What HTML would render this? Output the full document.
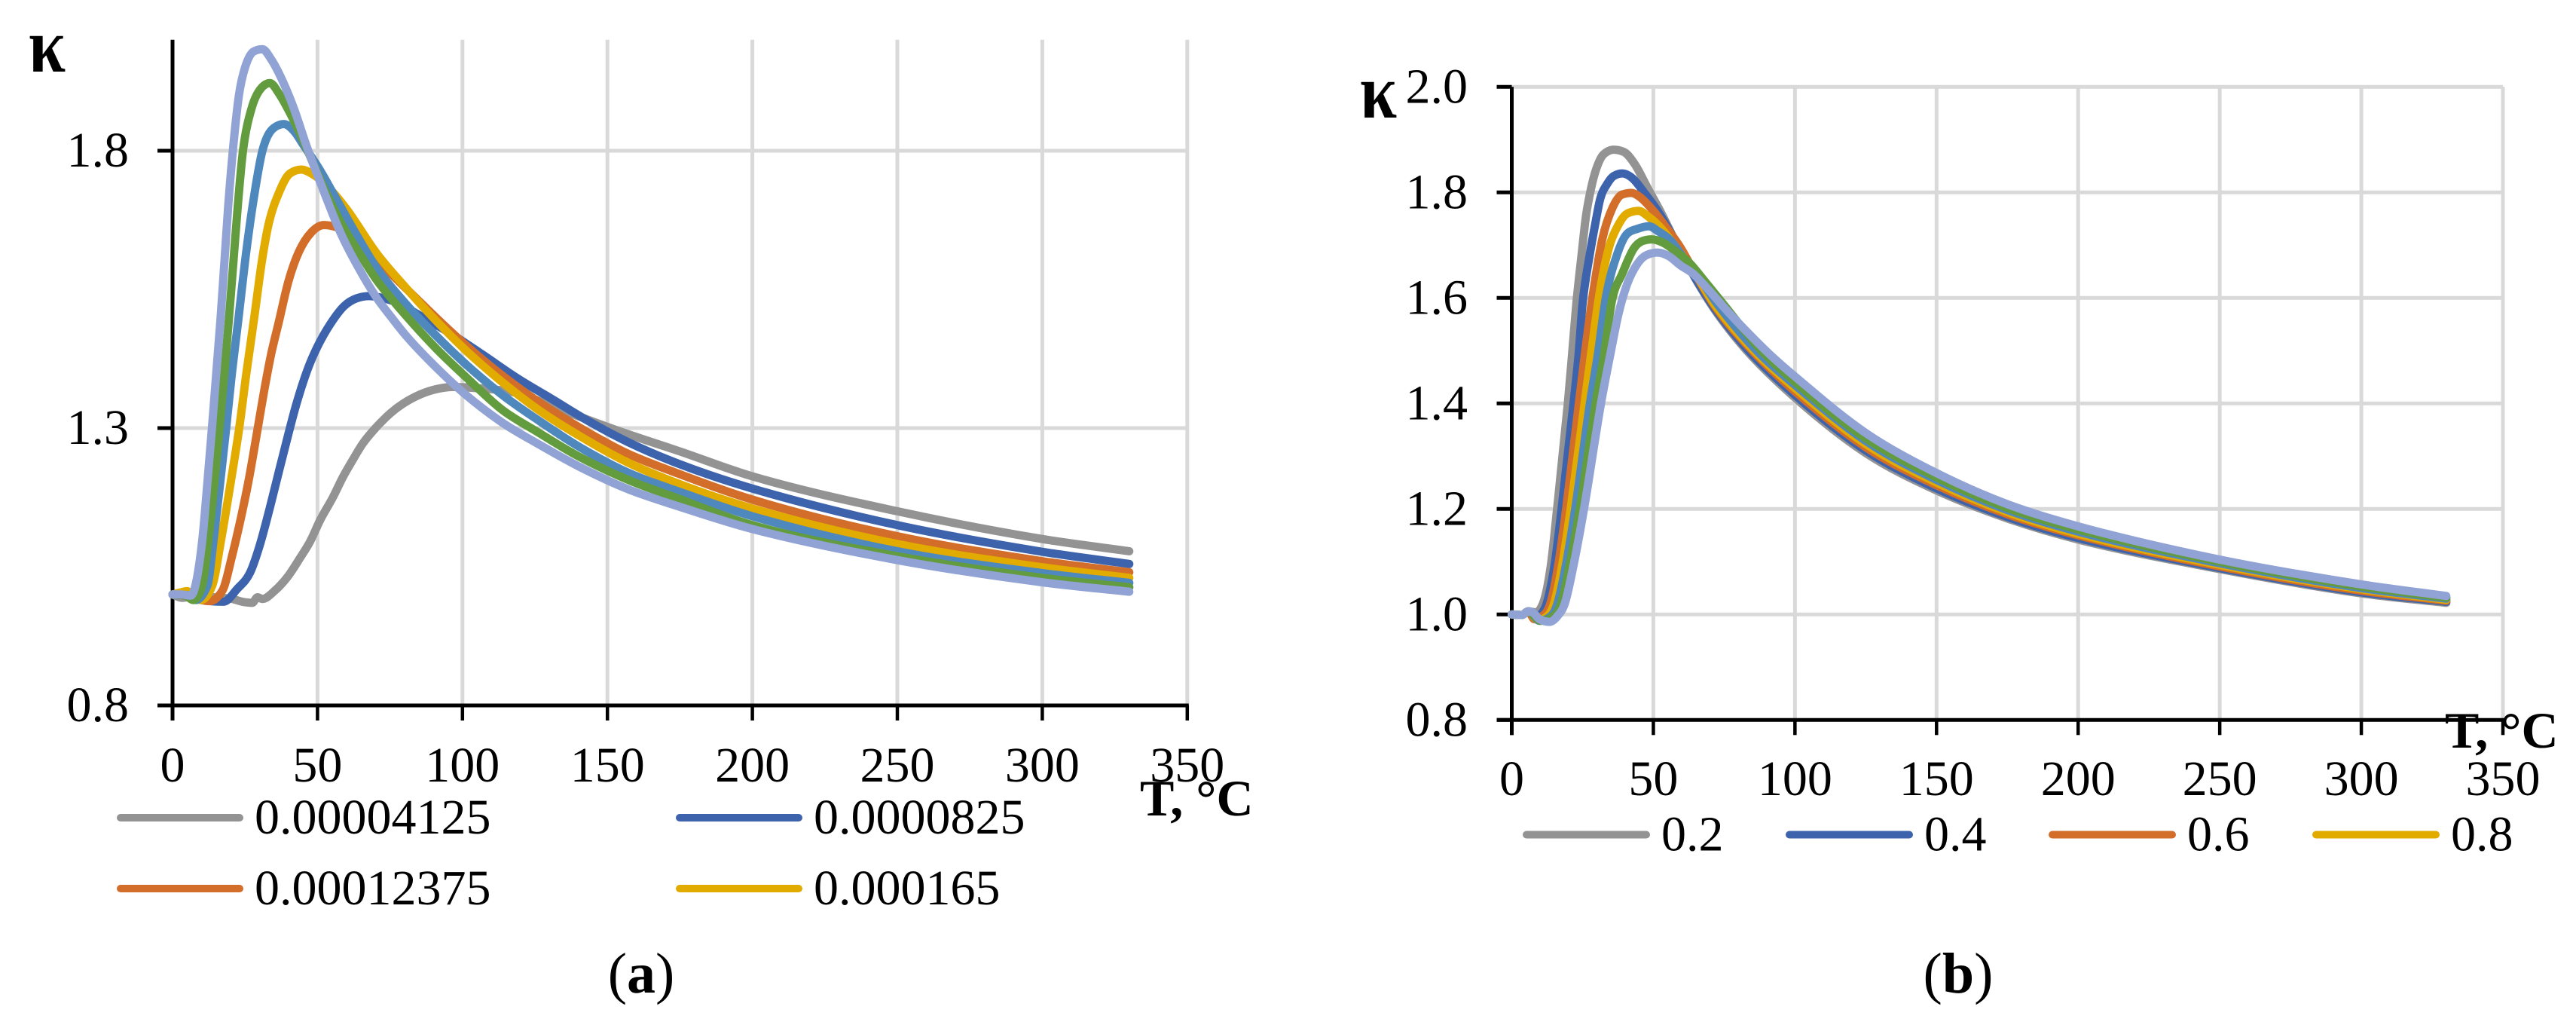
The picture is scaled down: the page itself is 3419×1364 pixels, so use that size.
<!DOCTYPE html>
<html lang="en">
<head>
<meta charset="utf-8">
<title>Kappa versus temperature charts</title>
<style>
html,body{margin:0;padding:0;background:#fff;width:3419px;height:1364px;overflow:hidden}
svg{display:block;font-family:"Liberation Serif",serif}
text{fill:#000}
</style>
</head>
<body>
<svg id="figure" xmlns="http://www.w3.org/2000/svg" width="3419" height="1364" viewBox="0 0 3419 1364">
<g id="chart-a"></g>
<g id="chart-b"></g>
<text transform="translate(38,95) scale(0.96,1.12)" font-size="92" font-weight="bold">κ</text>
<text x="1513" y="1082" font-size="68" font-weight="bold">T, °C</text>
<text x="851" y="1317" font-size="76" text-anchor="middle">(<tspan font-weight="bold">a</tspan>)</text>
<text transform="translate(1805,156) scale(0.96,1.12)" font-size="92" font-weight="bold">κ</text>
<text x="3245" y="992" font-size="68" font-weight="bold">T, °C</text>
<text x="2599" y="1317" font-size="76" text-anchor="middle">(<tspan font-weight="bold">b</tspan>)</text>
</svg>
<script>
// ---------- Panel (a) data ----------
const aGrayT=[0,3.3,8,14,20.6,24,27.5,29.3,31,35.3,39.7,44,47.5,51,55.3,58.7,62.2,65.6,70,75.2,79.5,85.6,90.8,96.8,105,117.2,129.3,139.7,152.7,165.7,174.4,200,250,300,330];
const aGrayK=[1,.994,.997,.995,.992,.987,.985,.995,.992,1.007,1.032,1.066,1.096,1.135,1.175,1.211,1.243,1.272,1.3,1.327,1.344,1.361,1.37,1.374,1.372,1.365,1.343,1.322,1.297,1.274,1.259,1.213,1.15,1.1,1.078];
const aBlueT=[0,5,10,17.6,22.3,26.7,30.1,33.6,36.6,39.7,42.7,46.6,50,54.6,59.2,63.5,67.8,72,78,84.3,96.4,106.8,118.9,131,144,157,174.4,200,250,300,330];
const aBlueK=[1,.998,.99,.987,1.01,1.039,1.089,1.157,1.22,1.284,1.343,1.406,1.447,1.489,1.52,1.534,1.538,1.535,1.525,1.506,1.469,1.433,1.39,1.352,1.311,1.275,1.236,1.191,1.125,1.077,1.055];
const aOrangeT=[0,5,10,12.8,17.2,20.6,24,26.3,29.4,31.7,34,36.6,40,43.6,47.9,52.2,56.6,62,68,74.8,85.2,96.4,106.8,119,131,144,157,174.4,200,250,300,330];
const aOrangeK=[1,.998,.99,.988,1.007,1.071,1.148,1.207,1.3,1.37,1.433,1.49,1.565,1.618,1.653,1.666,1.662,1.645,1.615,1.581,1.528,1.472,1.424,1.374,1.331,1.29,1.254,1.218,1.171,1.105,1.06,1.04];
const aYellowT=[0,3,5,7,9.8,13.7,16.8,20,23,25.5,28.2,30.8,33.2,36.6,40.5,44.4,47.9,53,60,70.4,80.8,91.2,101.6,113.7,125.9,139.7,157,174.4,200,250,300,330];
const aYellowK=[1,1.004,1.006,1,.99,1.016,1.1,1.2,1.3,1.4,1.5,1.6,1.669,1.723,1.759,1.766,1.759,1.738,1.695,1.615,1.551,1.492,1.438,1.383,1.334,1.288,1.238,1.2,1.155,1.091,1.049,1.03];
const aLightBlueT=[0,5,8,12,14.2,16.4,18.5,20.5,22.8,25,27.6,31,34.9,38.4,41.8,45.3,50.5,56.6,63.5,70.4,80.8,91.2,101.6,113.7,125.9,139.7,157,174.4,200,250,300,330];
const aLightBlueK=[1,.999,.99,1.016,1.1,1.2,1.3,1.4,1.5,1.6,1.7,1.8,1.841,1.848,1.836,1.809,1.768,1.712,1.648,1.589,1.522,1.465,1.413,1.36,1.315,1.268,1.22,1.186,1.141,1.078,1.0385,1.021];
const aGreenT=[0,4,7.2,10.2,12.4,14.4,16.2,17.9,19.5,21,22.5,24.3,27.3,30.6,33.6,36.6,41,46.2,51.4,58.3,65.2,70.4,80.8,91.2,101.6,113.7,125.9,139.7,157,174.4,200,250,300,330];
const aGreenK=[1,.999,.99,1.016,1.1,1.2,1.3,1.4,1.5,1.6,1.7,1.8,1.877,1.913,1.922,1.904,1.863,1.805,1.742,1.668,1.609,1.567,1.501,1.442,1.39,1.333,1.293,1.25,1.207,1.173,1.125,1.069,1.03,1.013];
const aLavenderT=[0,3,6.3,8.1,10.3,12,13.6,15.1,16.6,17.9,19.2,20.8,22.9,25,28,31,34,37.5,41.8,46.2,51.4,58.3,66,70.4,75.6,80.8,91.2,101.6,113.7,125.9,139.7,157,174.4,200,250,300,330];
const aLavenderK=[1,1,.998,1.021,1.1,1.2,1.3,1.4,1.5,1.6,1.7,1.8,1.9,1.95,1.979,1.983,1.965,1.931,1.877,1.809,1.737,1.648,1.572,1.535,1.499,1.465,1.408,1.358,1.31,1.272,1.232,1.19,1.159,1.118,1.062,1.022,1.005];

// ---------- Panel (b) data ----------
const bGrayT=[0,3.6,5.8,8.5,11.1,13.8,16,19.8,21.3,22.8,24.7,26.2,28.4,30.2,32.4,36,39.5,43.5,48,52.4,58.6,65,72,82.5,100,125,150,175,200,250,300,330];
const bGrayK=[1,.999,1.006,1.004,1.022,1.093,1.2,1.4,1.493,1.589,1.684,1.755,1.817,1.85,1.872,1.881,1.877,1.853,1.808,1.765,1.698,1.635,1.575,1.503,1.411,1.306,1.235,1.182,1.142,1.086,1.04,1.022];
const bBlueT=[0,3.6,5.8,7.6,9,10.7,12.4,15.1,17.6,21.8,23.6,25,27.6,29.5,31.3,33.8,36,39,42.6,47,51.5,58.6,64.8,71.9,83,100,125,150,175,200,250,300,330];
const bBlueK=[1,.999,1.006,1.003,.997,1.003,1.022,1.093,1.2,1.4,1.493,1.589,1.684,1.741,1.789,1.817,1.831,1.836,1.827,1.798,1.765,1.7,1.638,1.578,1.504,1.416,1.311,1.239,1.185,1.145,1.088,1.042,1.024];
const bOrangeT=[0,3.6,5.8,8,11.1,13.7,16.4,19.2,23.7,25.8,28.4,32,35.5,39,42.2,45.3,49.7,54.2,59.5,65.3,72,84,100,125,150,175,200,250,300,330];
const bOrangeK=[1,.999,1.006,.991,.998,1.022,1.093,1.2,1.4,1.493,1.598,1.712,1.77,1.796,1.799,1.791,1.767,1.736,1.696,1.641,1.582,1.505,1.423,1.317,1.245,1.19,1.15,1.091,1.045,1.026];
const bYellowT=[0,3.6,5.8,9.4,12.9,15,17.8,20.8,25.7,28,31.1,34.2,37.7,40.8,44.8,48,52.4,57.7,64.8,72,85,100,125,150,175,200,250,300,330];
const bYellowK=[1,.999,1.006,.989,.999,1.022,1.093,1.2,1.4,1.493,1.612,1.693,1.739,1.76,1.765,1.755,1.734,1.698,1.646,1.585,1.503,1.429,1.323,1.25,1.194,1.153,1.094,1.048,1.028];
const bLightBlueT=[0,3.6,5.8,9.8,14,16.2,19.1,22.4,27.6,30.4,33.3,37.3,40.8,44.4,48.4,51.5,55.9,60.3,65.2,72.8,86.5,100,125,150,175,200,250,300,330];
const bLightBlueK=[1,.999,1.006,.988,.998,1.022,1.093,1.2,1.4,1.493,1.603,1.684,1.722,1.731,1.736,1.727,1.71,1.679,1.646,1.587,1.5,1.435,1.329,1.255,1.198,1.157,1.097,1.05,1.03];
const bGreenT=[0,3.6,5.8,10.2,15,17.5,20.4,24,29.6,32.6,35.5,39,43,46.2,49.3,53.3,57.7,63,67.5,74.6,87.5,100,125,150,175,200,250,300,330];
const bGreenK=[1,.999,1.006,.988,.998,1.022,1.093,1.2,1.4,1.493,1.598,1.646,1.693,1.708,1.711,1.705,1.689,1.665,1.636,1.589,1.504,1.441,1.334,1.26,1.202,1.161,1.1,1.053,1.032];
const bLavenderT=[0,3.6,5.8,7.6,9.8,13.3,16,18.8,21.8,25.5,31.5,34.8,37.7,40.8,44.4,47.5,51.5,55.5,59.5,64,69.2,76.3,90.5,100,125,150,175,200,250,300,330];
const bLavenderK=[1,.999,1.006,1.003,.991,.986,.996,1.022,1.093,1.2,1.4,1.493,1.57,1.627,1.665,1.681,1.686,1.679,1.662,1.646,1.617,1.574,1.496,1.451,1.344,1.268,1.209,1.167,1.104,1.057,1.035];

// ---------- Ticks and legends ----------
const xTickLabels=[0,50,100,150,200,250,300,350];
const aYTickLabels=['0.8','1.3','1.8'];
const aGridLevels=[1.3,1.8];
const bYTickLabels=['0.8','1.0','1.2','1.4','1.6','1.8','2.0'];
const bGridLevels=[1.0,1.2,1.4,1.6,1.8,2.0];
const seriesColors=['#939393','#3d63ad','#d26e2a','#e2ab00','#4f88bd','#639b3f','#91a3d5'];
const seriesNames=['gray','blue','orange','yellow','light-blue','green','lavender'];
const aLegendLabels=['0.00004125','0.0000825','0.00012375','0.000165'];
const bLegendLabels=['0.2','0.4','0.6','0.8'];

const SVGNS='http://www.w3.org/2000/svg';
function make(parent,tag,attrs,txt){
  const el=document.createElementNS(SVGNS,tag);
  for(const key in attrs){el.setAttribute(key,attrs[key]);}
  if(txt!==undefined){el.textContent=txt;}
  parent.appendChild(el);
  return el;
}
// Monotone cubic path through the data points, evaluated in pixel space.
function curvePath(xs,ys){
  const n=xs.length,d=[],m=[];
  for(let i=0;i<n-1;i++){d.push((ys[i+1]-ys[i])/((xs[i+1]-xs[i])||1e-6));}
  m.push(d[0]);
  for(let i=1;i<n-1;i++){m.push(d[i-1]*d[i]<=0?0:(d[i-1]+d[i])/2*Math.min(1,2*Math.min(Math.abs(d[i-1]),Math.abs(d[i]))/Math.abs((d[i-1]+d[i])/2)));}
  m.push(d[n-2]);
  let p='M'+xs[0].toFixed(2)+' '+ys[0].toFixed(2);
  for(let i=0;i<n-1;i++){
    const h=(xs[i+1]-xs[i])/3;
    p+='C'+(xs[i]+h).toFixed(2)+' '+(ys[i]+m[i]*h).toFixed(2)+' '+(xs[i+1]-h).toFixed(2)+' '+(ys[i+1]-m[i+1]*h).toFixed(2)+' '+xs[i+1].toFixed(2)+' '+ys[i+1].toFixed(2);
  }
  return p;
}

function drawChart(cfg){
  const root=document.getElementById(cfg.rootId);
  const xScale=function(t){return cfg.x0+t*cfg.xPerUnit;};
  const yScale=function(k){return cfg.yBase-(k-0.8)*cfg.yPerUnit;};
  const xMax=xTickLabels[xTickLabels.length-1];
  const GRID='#d9d9d9';

  xTickLabels.slice(1).forEach(function(t){
    const line=make(root,'line',{x1:xScale(t),x2:xScale(t),y1:yScale(2.0),y2:yScale(0.8),stroke:GRID,'stroke-width':5});
    
    
  });
  cfg.grid.forEach(function(k){
    const line=make(root,'line',{x1:cfg.x0,x2:xScale(xMax),y1:yScale(k),y2:yScale(k),stroke:GRID,'stroke-width':5});
    
    
  });

  const yAxis=make(root,'line',{x1:cfg.x0,x2:cfg.x0,y1:yScale(2.0),y2:cfg.yBase+cfg.tickDown,stroke:'#000','stroke-width':5});
  
  
  const xAxis=make(root,'line',{x1:cfg.x0-20,x2:xScale(xMax)+2,y1:cfg.yBase,y2:cfg.yBase,stroke:'#000','stroke-width':5});
  
  

  xTickLabels.forEach(function(t){
    const tick=make(root,'line',{x1:xScale(t),x2:xScale(t),y1:cfg.yBase,y2:cfg.yBase+cfg.tickDown,stroke:'#000','stroke-width':4.5});
    
    
    const label=make(root,'text',{x:xScale(t),y:cfg.xLabelY,'font-size':66,'text-anchor':'middle'},String(t));
    
    
  });
  cfg.yLabels.forEach(function(s){
    const k=parseFloat(s);
    const tick=make(root,'line',{x1:cfg.x0-20,x2:cfg.x0,y1:yScale(k),y2:yScale(k),stroke:'#000','stroke-width':5});
    
    
    const label=make(root,'text',{x:cfg.yLabelX,y:yScale(k)+21,'font-size':66,'text-anchor':'end'},s);
    
    
  });

  cfg.series.forEach(function(s,i){
    const path=make(root,'path',{d:curvePath(s[0].map(xScale),s[1].map(yScale)),fill:'none',stroke:seriesColors[i],'stroke-width':11,'stroke-linecap':'round','stroke-linejoin':'round'});
    
    
  });

  cfg.legend.forEach(function(entry,i){
    const swatch=make(root,'line',{x1:entry[0],x2:entry[0]+cfg.swatch,y1:entry[1],y2:entry[1],stroke:seriesColors[i],'stroke-width':10,'stroke-linecap':'round'});
    
    
    const label=make(root,'text',{x:entry[0]+cfg.swatch+20,y:entry[1]+21,'font-size':66},cfg.legendLabels[i]);
    
    
  });
}

drawChart({
  rootId:'chart-a',x0:229,xPerUnit:3.848,yBase:936,yPerUnit:736,tickDown:20,xLabelY:1037,yLabelX:171,
  grid:aGridLevels,yLabels:aYTickLabels,swatch:158,
  series:[[aGrayT,aGrayK],[aBlueT,aBlueK],[aOrangeT,aOrangeK],[aYellowT,aYellowK],[aLightBlueT,aLightBlueK],[aGreenT,aGreenK],[aLavenderT,aLavenderK]],
  legendLabels:aLegendLabels,
  legend:[[160,1085],[902,1085],[160,1179],[902,1179]]
});
drawChart({
  rootId:'chart-b',x0:2006.5,xPerUnit:3.7586,yBase:955.3,yPerUnit:700,tickDown:20,xLabelY:1055,yLabelX:1948,
  grid:bGridLevels,yLabels:bYTickLabels,swatch:159,
  series:[[bGrayT,bGrayK],[bBlueT,bBlueK],[bOrangeT,bOrangeK],[bYellowT,bYellowK],[bLightBlueT,bLightBlueK],[bGreenT,bGreenK],[bLavenderT,bLavenderK]],
  legendLabels:bLegendLabels,
  legend:[[2026,1107.5],[2375,1107.5],[2724,1107.5],[3074,1107.5]]
});
</script>
</body>
</html>
